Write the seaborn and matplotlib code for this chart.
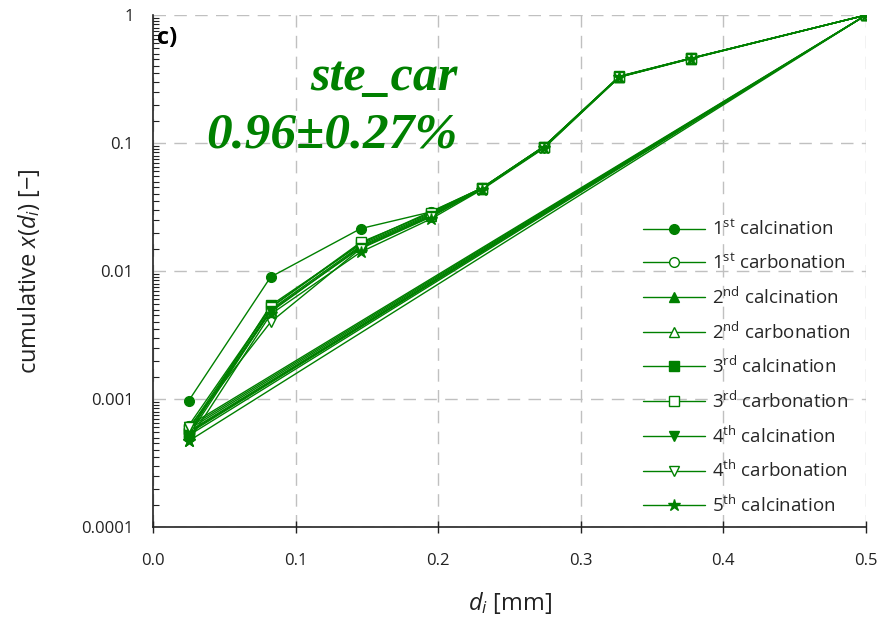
import numpy as np
import pandas as pd
import matplotlib
matplotlib.use("Agg")
import matplotlib.pyplot as plt
import seaborn as sns

# ---- data ----
d_i = [0.025, 0.0825, 0.1457, 0.195, 0.2305, 0.274, 0.327, 0.377, 0.5]
series_labels = [
    r"1$^{\mathrm{st}}$ calcination", r"1$^{\mathrm{st}}$ carbonation",
    r"2$^{\mathrm{nd}}$ calcination", r"2$^{\mathrm{nd}}$ carbonation",
    r"3$^{\mathrm{rd}}$ calcination", r"3$^{\mathrm{rd}}$ carbonation",
    r"4$^{\mathrm{th}}$ calcination", r"4$^{\mathrm{th}}$ carbonation",
    r"5$^{\mathrm{th}}$ calcination",
]
calc1 = [0.00097, 0.0090, 0.0215, 0.0290, 0.0443, 0.0936, 0.330, 0.459, 1.0]
carb1 = [0.00062, 0.0052, 0.0165, 0.0292, 0.0445, 0.0940, 0.332, 0.460, 1.0]
calc2 = [0.00055, 0.0050, 0.0158, 0.0275, 0.0440, 0.0930, 0.330, 0.458, 1.0]
carb2 = [0.00056, 0.0048, 0.0155, 0.0270, 0.0438, 0.0930, 0.329, 0.458, 1.0]
calc3 = [0.00054, 0.0054, 0.0162, 0.0280, 0.0445, 0.0940, 0.331, 0.459, 1.0]
carb3 = [0.00058, 0.0052, 0.0168, 0.0285, 0.0446, 0.0940, 0.333, 0.460, 1.0]
calc4 = [0.00052, 0.0049, 0.0152, 0.0268, 0.0440, 0.0920, 0.329, 0.457, 1.0]
carb4 = [0.00060, 0.0040, 0.0150, 0.0265, 0.0437, 0.0920, 0.328, 0.457, 1.0]
calc5 = [0.00047, 0.0046, 0.0141, 0.0256, 0.0432, 0.0910, 0.327, 0.455, 1.0]
all_series = [calc1, carb1, calc2, carb2, calc3, carb3, calc4, carb4, calc5]
closed = [False, True, True, True, True, True, True, True, True]
x_ticks = [0.0, 0.1, 0.2, 0.3, 0.4, 0.5]
y_ticks = [0.0001, 0.001, 0.01, 0.1, 1]
y_ticklabels = ["0.0001", "0.001", "0.01", "0.1", "1"]

# ---- style ----
sns.set_theme(style="white")
plt.rcParams['font.family'] = ['Open Sans', 'DejaVu Sans']
plt.rcParams['mathtext.fontset'] = 'custom'
plt.rcParams['mathtext.rm'] = 'Open Sans'
plt.rcParams['mathtext.it'] = 'Open Sans:italic'
plt.rcParams['mathtext.bf'] = 'Open Sans:bold'

GREEN = "#008000"
markers = ['o', 'o', '^', '^', 's', 's', 'v', 'v', '*']
filled = [True, False, True, False, True, False, True, False, True]
msizes = [7, 7, 7, 7, 7, 7, 7, 7, 9]

fig = plt.figure(figsize=(8.81, 6.29), dpi=100)
ax = fig.add_axes([0.1737, 0.162, 0.8093, 0.814])

for lab, ys, m, f, ms, c in zip(series_labels, all_series, markers, filled, msizes, closed):
    xs = list(d_i)
    yy = list(ys)
    if c:
        # path returns to the first point
        xs = xs + [d_i[0]]
        yy = yy + [ys[0]]
    df = pd.DataFrame({"x": xs, "y": yy})
    sns.lineplot(data=df, x="x", y="y", ax=ax, sort=False, estimator=None,
                 color=GREEN, lw=1.0, marker=m, markersize=ms,
                 markerfacecolor=GREEN if f else "white",
                 markeredgecolor=GREEN, markeredgewidth=1.0, label=lab)

ax.set_yscale("log")
ax.set_xlim(0.0, 0.5)
ax.set_ylim(0.0001, 1)
ax.set_xticks(x_ticks)
ax.set_xticklabels([f"{v:.1f}" for v in x_ticks], fontsize=12)
ax.set_yticks(y_ticks)
ax.set_yticklabels(y_ticklabels, fontsize=12)
ax.yaxis.set_minor_locator(matplotlib.ticker.LogLocator(base=10, subs=np.arange(1.5, 10, 0.5)))
ax.yaxis.set_minor_formatter(matplotlib.ticker.NullFormatter())

ax.grid(True, which='major', color="#c0c0c0", linestyle=(0, (9, 6)), linewidth=1.0)
ax.set_axisbelow(True)
for s in ['top', 'right']:
    ax.spines[s].set_visible(False)
for s in ['left', 'bottom']:
    ax.spines[s].set_color("#222222")
    ax.spines[s].set_linewidth(1.2)

ax.tick_params(axis='both', which='major', direction='inout', length=8, width=1.0,
               color="#222222", labelcolor="#222222")
ax.tick_params(axis='x', which='major', pad=15)
ax.tick_params(axis='y', which='major', pad=10)
ax.tick_params(axis='y', which='minor', direction='in', length=4, width=0.8,
               color="#222222", left=True)
ax.tick_params(axis='x', which='both', bottom=True)

ax.set_xlabel(r"$\mathit{d}_{\mathit{i}}$ [mm]", fontsize=17, color="#222222", labelpad=15)
ax.set_ylabel(r"cumulative $\mathit{x}$($\mathit{d}_{\mathit{i}}$) [−]", fontsize=17,
              color="#222222", labelpad=28)

ax.text(0.006, 0.955, "c)", transform=ax.transAxes, fontsize=17, fontweight='bold',
        color="black", va='center', ha='left')
ax.text(0.427, 0.878, "ste_car", transform=ax.transAxes, fontsize=36,
        fontweight='bold', fontstyle='italic', family='Liberation Serif',
        color=GREEN, ha='right', va='center')
ax.text(0.427, 0.765, "0.96±0.27%", transform=ax.transAxes, fontsize=37,
        fontweight='bold', fontstyle='italic', family='Liberation Serif',
        color=GREEN, ha='right', va='center')

leg = ax.legend(loc='lower right', bbox_to_anchor=(0.995, 0.0), frameon=False,
                fontsize=13.5, handlelength=3.3, labelspacing=0.72, borderaxespad=0.2,
                handletextpad=0.4)

fig.savefig("out.png", dpi=100)
